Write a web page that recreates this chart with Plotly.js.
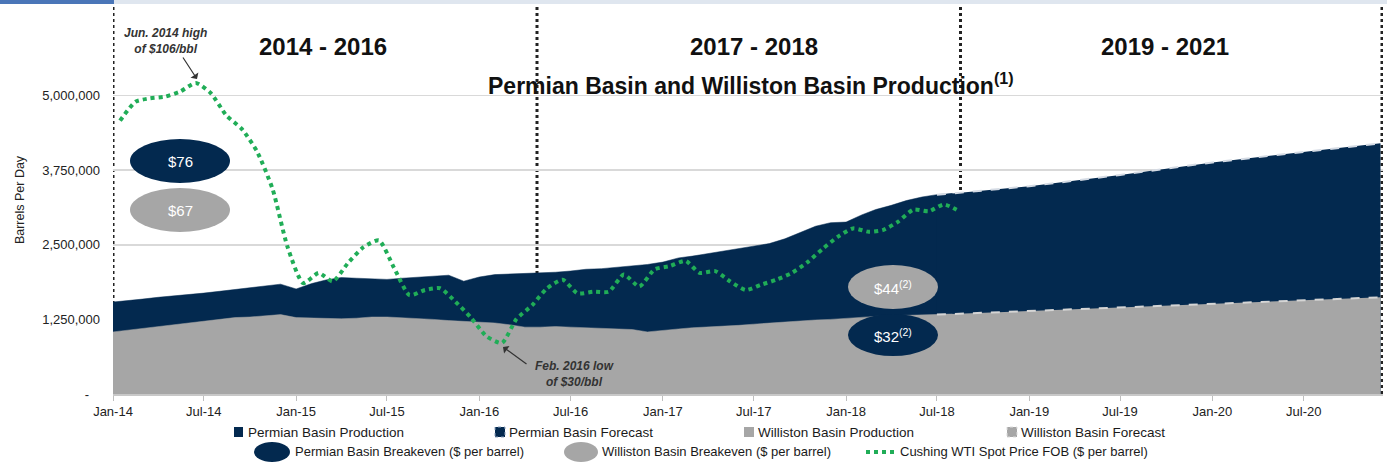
<!DOCTYPE html>
<html>
<head>
<meta charset="utf-8">
<script src="https://cdn.plot.ly/plotly-3.0.1.min.js"></script>
<style>
  body { margin: 0; background: #fff; }
  #chart { width: 1387px; height: 464px; }
</style>
</head>
<body>
<div id="chart"></div>
<script>
// Production in barrels per day, monthly Jan-14 .. Aug-18
var permianProd = [
    1540000, 1560000, 1590000, 1620000, 1640000, 1670000, 1690000, 1720000, 1750000, 1780000, 1820000, 1840000,
    1760000, 1850000, 1910000, 1950000, 1940000, 1930000, 1920000, 1940000, 1960000, 1980000, 1990000, 1890000,
    1960000, 2000000, 2010000, 2020000, 2020000, 2040000, 2060000, 2090000, 2100000, 2120000, 2140000, 2170000,
    2210000, 2280000, 2310000, 2350000, 2390000, 2430000, 2470000, 2520000, 2600000, 2700000, 2810000, 2870000,
    2880000, 3000000, 3090000, 3160000, 3240000, 3300000, 3340000, 3360000
];
var willistonProd = [
    1040000, 1070000, 1100000, 1130000, 1150000, 1180000, 1210000, 1250000, 1280000, 1290000, 1310000, 1330000,
    1280000, 1270000, 1270000, 1260000, 1270000, 1290000, 1290000, 1280000, 1270000, 1250000, 1230000, 1220000,
    1210000, 1190000, 1160000, 1120000, 1120000, 1130000, 1120000, 1110000, 1100000, 1090000, 1080000, 1040000,
    1070000, 1090000, 1110000, 1120000, 1140000, 1150000, 1170000, 1190000, 1210000, 1220000, 1240000, 1250000,
    1270000, 1290000, 1300000, 1310000, 1320000, 1320000, 1330000, 1340000
];

// Forecast, picks up from the Jul-18 actual and runs to Dec-20
var forecastDates = ['2018-07-01', '2018-08-01', '2019-01-01', '2019-07-01', '2020-01-01', '2020-07-01', '2020-12-01'];
var permianFcst = [3340000, 3360000, 3480000, 3670000, 3880000, 4050000, 4200000];
var willistonFcst = [1330000, 1340000, 1390000, 1460000, 1520000, 1570000, 1620000];

// Cushing WTI spot, $/bbl, monthly Jan-14 .. Aug-18
var wti = [
    95, 100.5, 101.5, 102, 103.5, 106, 103, 96.5, 92.5, 86, 75, 58,
    47.5, 50.5, 48, 53.5, 58, 60, 52, 44, 45.5, 46, 42, 37.5,
    32, 30, 37, 41, 46, 48.5, 44.5, 45, 45, 50, 46.5, 51.5,
    52.5, 54, 50.5, 51, 48, 45.5, 47, 48.5, 50.5, 53.5, 57.5, 61,
    63.5, 62.5, 63, 65.5, 69, 68.5, 70.5, 68.5
];

// breakevens: 2014-2016 period, then 2017-2018 period
var permianBreakeven = [76, 32];
var willistonBreakeven = [67, 44];

var periods = ['2014 - 2016', '2017 - 2018', '2019 - 2021'];
var legendRow1 = ['Permian Basin Production', 'Permian Basin Forecast', 'Williston Basin Production', 'Williston Basin Forecast'];
var legendRow2 = ['Permian Basin Breakeven ($ per barrel)', 'Williston Basin Breakeven ($ per barrel)', 'Cushing WTI Spot Price FOB ($ per barrel)'];

function months(year, count, day) {
    var out = [];
    for (var i = 0; i < count; i++) {
        var y = year + Math.floor(i / 12);
        var m = i % 12 + 1;
        out.push(y + '-' + (m < 10 ? '0' : '') + m + '-' + day);
    }
    return out;
}
var prodDates = months(2014, permianProd.length, '01');
var wtiDates = months(2014, wti.length, '15');

var NAVY = '#03294f';
var GREY = '#a6a6a6';
var GREEN = '#20ad57';
var FONT = 'Liberation Sans, Arial, sans-serif';

// pixel -> paper helpers (plot area 113..1383 x 6..394)
function P(x) { return (x - 113) / 1270; }
function Q(y) { return (394 - y) / 388; }

var data = [
    {x: prodDates, y: permianProd, type: 'scatter', mode: 'lines', fill: 'tozeroy',
     fillcolor: NAVY, line: {color: NAVY, width: 0.5}},
    {x: forecastDates, y: permianFcst, type: 'scatter', mode: 'lines', fill: 'tozeroy',
     fillcolor: NAVY, line: {color: '#d5dbe4', width: 2, dash: 'dash'}},
    {x: prodDates, y: willistonProd, type: 'scatter', mode: 'lines', fill: 'tozeroy',
     fillcolor: GREY, line: {color: GREY, width: 0.5}},
    {x: forecastDates, y: willistonFcst, type: 'scatter', mode: 'lines', fill: 'tozeroy',
     fillcolor: GREY, line: {color: '#d5d5d5', width: 2, dash: 'dash'}},
    {x: wtiDates, y: wti, yaxis: 'y2', type: 'scatter', mode: 'lines',
     line: {color: GREEN, width: 4, dash: 'dot', shape: 'spline', smoothing: 0.6}}
];

function ellipse(cx, cy, rx, ry, color) {
    return {type: 'circle', xref: 'paper', yref: 'paper',
        x0: P(cx - rx), x1: P(cx + rx), y0: Q(cy + ry), y1: Q(cy - ry),
        fillcolor: color, line: {width: 0}};
}
function rect(x0, y0, x1, y1, color, line) {
    return {type: 'rect', xref: 'paper', yref: 'paper',
        x0: P(x0), x1: P(x1), y0: Q(y1), y1: Q(y0),
        fillcolor: color, line: line || {width: 0}};
}
function label(x, y, text, size, opts) {
    var a = {xref: 'paper', yref: 'paper', x: P(x), y: Q(y), text: text, showarrow: false,
        xanchor: 'center', yanchor: 'middle', font: {family: FONT, size: size, color: '#1a1a1a'}};
    for (var k in opts) a[k] = opts[k];
    return a;
}

var shapes = [
    // slide band on top
    rect(0, 0, 1387, 4, '#dfe6ef'),
    rect(0, 0, 114, 4, '#4a76b8')
];
['2014-01-01', '2016-04-25', '2018-08-17', '2020-12-04'].forEach(function (d) {
    shapes.push({type: 'line', xref: 'x', yref: 'paper', x0: d, x1: d, y0: 0, y1: 1.0,
        layer: 'below', line: {color: '#222', width: 3, dash: 'dot'}});
});
shapes.push(ellipse(180, 161, 50, 22, NAVY));
shapes.push(ellipse(180, 210, 50, 22, GREY));
shapes.push(ellipse(893, 287, 45, 22, GREY));
shapes.push(ellipse(893, 335, 45, 21, NAVY));

// legend icons
shapes.push(rect(234, 427, 243, 437, NAVY));
shapes.push(rect(495, 427, 505, 437, NAVY, {color: '#8fa3bf', width: 1, dash: 'dot'}));
shapes.push(rect(744, 427, 754, 437, GREY));
shapes.push(rect(1007, 427, 1017, 437, GREY, {color: '#dddddd', width: 1, dash: 'dot'}));
shapes.push(ellipse(272, 452, 18, 10, NAVY));
shapes.push(ellipse(581, 452, 17, 10, GREY));
shapes.push({type: 'line', xref: 'paper', yref: 'paper', x0: P(866), x1: P(897), y0: Q(452), y1: Q(452),
    line: {color: GREEN, width: 4, dash: 'dot'}});

var bold = function (size) { return {family: FONT, size: size, color: '#111', weight: 'bold'}; };
var annotations = [
    label(323, 47, periods[0], 24, {font: bold(24)}),
    label(754, 47, periods[1], 24, {font: bold(24)}),
    label(1165, 47, periods[2], 24, {font: bold(24)}),
    label(751, 84, 'Permian Basin and Williston Basin Production<sup>(1)</sup>', 23, {font: bold(23)}),
    label(165, 41, '<b><i>Jun. 2014 high<br>of $106/bbl</i></b>', 12, {font: {family: FONT, size: 12, color: '#333'}}),
    label(574, 374, '<b><i>Feb. 2016 low<br>of $30/bbl</i></b>', 12, {font: {family: FONT, size: 12, color: '#333'}}),
    {xref: 'paper', yref: 'paper', x: P(197), y: Q(79), ax: -15, ay: -23, text: '', showarrow: true,
        arrowhead: 1, arrowsize: 1.3, arrowwidth: 1.2, arrowcolor: '#333'},
    {xref: 'paper', yref: 'paper', x: P(503), y: Q(347), ax: 25, ay: 18, text: '', showarrow: true,
        arrowhead: 1, arrowsize: 1.3, arrowwidth: 1.2, arrowcolor: '#333'},
    label(180, 161, '$' + permianBreakeven[0], 15, {font: {family: FONT, size: 15, color: '#fff'}}),
    label(180, 210, '$' + willistonBreakeven[0], 15, {font: {family: FONT, size: 15, color: '#fff'}}),
    label(893, 287, '$' + willistonBreakeven[1] + '<sup>(2)</sup>', 15, {font: {family: FONT, size: 15, color: '#fff'}}),
    label(893, 335, '$' + permianBreakeven[1] + '<sup>(2)</sup>', 15, {font: {family: FONT, size: 15, color: '#fff'}})
];
var row1x = [246, 507, 756, 1019];
legendRow1.forEach(function (t, i) {
    annotations.push(label(row1x[i], 432, t, 13.5, {xanchor: 'left'}));
});
var row2x = [293, 600, 898];
legendRow2.forEach(function (t, i) {
    annotations.push(label(row2x[i], 452, t, 13, {xanchor: 'left'}));
});

var layout = {
    width: 1387, height: 464,
    margin: {l: 113, r: 4, t: 6, b: 70},
    paper_bgcolor: '#fff', plot_bgcolor: '#fff',
    font: {family: FONT, size: 13, color: '#222'},
    showlegend: false,
    hovermode: false,
    xaxis: {
        type: 'date', range: ['2014-01-01', '2020-12-06'],
        tickmode: 'linear', tick0: '2014-01-01', dtick: 'M6', tickformat: '%b-%y',
        ticks: 'outside', ticklen: 5, tickcolor: '#bfbfbf',
        showline: true, linecolor: '#c8c8c8', linewidth: 1.5,
        showgrid: false, zeroline: false, tickfont: {size: 13, color: '#222'}
    },
    yaxis: {
        range: [0, 6500000],
        tickvals: [0, 1250000, 2500000, 3750000, 5000000],
        ticktext: ['-\u00a0\u2007', '1,250,000', '2,500,000', '3,750,000', '5,000,000'],
        showgrid: true, gridcolor: '#d9d9d9', gridwidth: 1.5, zeroline: false,
        ticks: '', ticklabelstandoff: 12, tickfont: {size: 13, color: '#222'},
        title: {text: 'Barrels Per Day', font: {size: 12.5, color: '#222'}, standoff: 14}
    },
    yaxis2: {overlaying: 'y', range: [15.1, 128.5], visible: false},
    shapes: shapes,
    annotations: annotations
};

Plotly.newPlot('chart', data, layout, {displayModeBar: false, staticPlot: true});
</script>
</body>
</html>
